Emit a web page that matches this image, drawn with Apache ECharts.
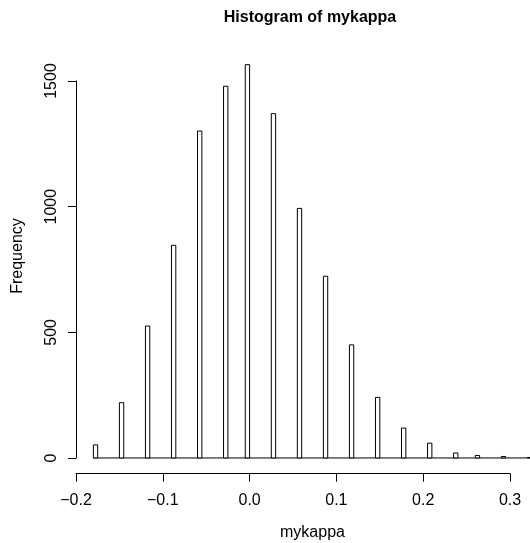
<!DOCTYPE html>
<html>
<head>
<meta charset="utf-8">
<script src="https://cdn.jsdelivr.net/npm/echarts@6/dist/echarts.min.js"></script>
<style>
  html, body { margin: 0; padding: 0; background: #fff; }
  #chart { width: 530px; height: 543px; }
</style>
</head>
<body>
<div id="chart"></div>
<script>
// histogram bins (left edge of each non-empty bin) and their counts
var binWidth = 0.005;
var binLeft = [-0.18, -0.15, -0.12, -0.09, -0.06, -0.03, -0.005, 0.025, 0.055, 0.085,
               0.115, 0.145, 0.175, 0.205, 0.235, 0.26, 0.29, 0.32];
var counts  = [52, 220, 525, 846, 1301, 1479, 1565, 1370, 993, 723,
               450, 241, 119, 59, 20, 10, 6, 2];
// range of breaks, drawn as the zero line under the bars
var breaksRange = [-0.18, 0.325];
var xTicks = [-0.2, 0.3, 0.1];   // min, max, step
var yTicks = [0, 1500, 500];

var font = "'Liberation Sans', Arial, Helvetica, sans-serif";

var histData = [];
for (var i = 0; i < binLeft.length; i++) {
	histData.push([binLeft[i], counts[i]]);
}

function renderBin(params, api) {
	var x0 = api.value(0);
	var n = api.value(1);
	var p0 = api.coord([x0, 0]);
	var p1 = api.coord([x0 + binWidth, n]);
	return {
		type: 'rect',
		shape: { x: p0[0], y: p1[1], width: p1[0] - p0[0], height: p0[1] - p1[1] },
		style: { fill: '#fff', stroke: '#000', lineWidth: 1 }
	};
}

var chart = echarts.init(document.getElementById('chart'), null, { renderer: 'canvas' });

var option = {
	animation: false,
	backgroundColor: '#fff',
	title: {
		text: 'Histogram of mykappa',
		left: 305,
		top: 5,
		textAlign: 'center',
		textStyle: { fontFamily: font, fontSize: 16, fontWeight: 'bold', color: '#000' }
	},
	grid: [
		// plot region (cut at the right edge of the picture)
		{ left: 75.8, top: 38.3, width: 454.2, height: 435.4 },
		// y axis only (0..1500)
		{ left: 76, top: 81, width: 10, height: 377 },
		// x axis only (-0.2..0.3)
		{ left: 76, top: 463, width: 434, height: 10.7 },
		// holds the x axis title, centred on the full plot region
		{ left: 95, top: 463, width: 435, height: 10.7 }
	],
	xAxis: [
		{
			gridIndex: 0, type: 'value', min: -0.20023, max: 0.32304,
			axisLine: { show: false }, axisTick: { show: false },
			axisLabel: { show: false }, splitLine: { show: false }
		},
		{
			gridIndex: 1, type: 'value', min: 0, max: 1, show: false
		},
		{
			gridIndex: 2, type: 'value', position: 'bottom',
			min: xTicks[0], max: xTicks[1], interval: xTicks[2],
			axisLine: { show: true, lineStyle: { color: '#000', width: 1 } },
			axisTick: { show: true, length: 8, lineStyle: { color: '#000' } },
			axisLabel: {
				show: true, margin: 19, fontFamily: font, fontSize: 16, color: '#000',
				formatter: function (v) {
					return (v < -1e-9 ? '\u2212' : '') + Math.abs(v).toFixed(1);
				}
			},
			splitLine: { show: false }
		},
		{
			gridIndex: 3, type: 'value', position: 'bottom', min: 0, max: 1,
			name: 'mykappa', nameLocation: 'middle', nameGap: 51,
			nameTextStyle: { fontFamily: font, fontSize: 16, color: '#000' },
			axisLine: { show: false }, axisTick: { show: false },
			axisLabel: { show: false }, splitLine: { show: false }
		}
	],
	yAxis: [
		{
			gridIndex: 0, type: 'value', min: -62.6, max: 1669.8,
			name: 'Frequency', nameLocation: 'middle', nameGap: 50, nameRotate: 90,
			nameTextStyle: { fontFamily: font, fontSize: 16, color: '#000' },
			axisLine: { show: false }, axisTick: { show: false },
			axisLabel: { show: false }, splitLine: { show: false }
		},
		{
			gridIndex: 1, type: 'value', position: 'left',
			min: yTicks[0], max: yTicks[1], interval: yTicks[2],
			axisLine: { show: true, lineStyle: { color: '#000', width: 1 } },
			axisTick: { show: true, length: 8, lineStyle: { color: '#000' } },
			axisLabel: {
				show: true, rotate: 90, margin: 16, fontFamily: font, fontSize: 16, color: '#000',
				formatter: function (v) { return String(v); }
			},
			splitLine: { show: false }
		},
		{
			gridIndex: 2, type: 'value', min: 0, max: 1, show: false
		},
		{
			gridIndex: 3, type: 'value', min: 0, max: 1, show: false
		}
	],
	series: [
		{
			type: 'line',
			xAxisIndex: 0, yAxisIndex: 0,
			data: [[breaksRange[0], 0], [breaksRange[1], 0]],
			symbol: 'none', silent: true,
			lineStyle: { color: '#000', width: 1 },
			z: 1
		},
		{
			type: 'custom',
			xAxisIndex: 0, yAxisIndex: 0,
			renderItem: renderBin,
			encode: { x: 0, y: 1 },
			data: histData,
			silent: true,
			z: 2
		}
	]
};

chart.setOption(option);
</script>
</body>
</html>
